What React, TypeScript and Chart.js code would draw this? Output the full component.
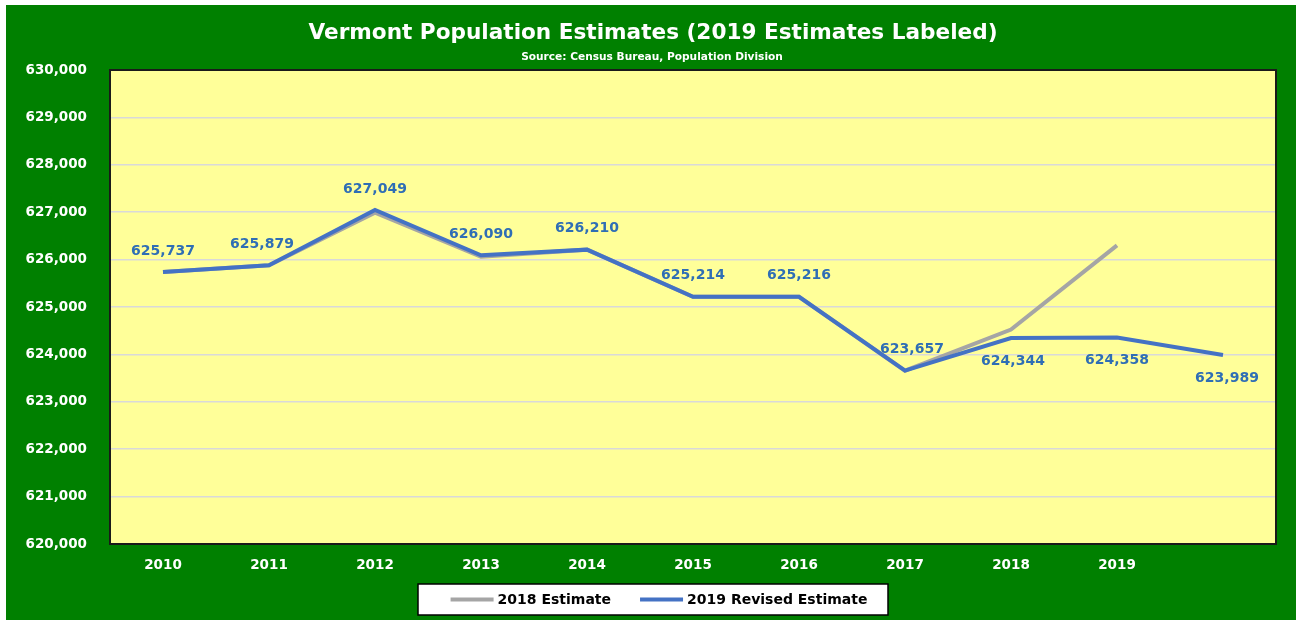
import React, { useEffect, useRef } from "react";
import { Chart, registerables } from "chart.js";

Chart.register(...registerables);

const categories = ["2010", "2011", "2012", "2013", "2014", "2015", "2016", "2017", "2018", "2019", ""];
const estimate2018 = [625737, 625879, 626990, 626060, 626210, 625214, 625216, 623657, 624525, 626299, null];
const revised2019 = [625737, 625879, 627049, 626090, 626210, 625214, 625216, 623657, 624344, 624358, 623989];
const seriesNames = ["2018 Estimate", "2019 Revised Estimate"];
const titleText = "Vermont Population Estimates (2019 Estimates Labeled)";
const subtitleText = "Source: Census Bureau, Population Division";

const GREEN = "#008000";
const YELLOW = "#FFFF99";
const BLUE = "#4472C4";
const GRAY = "#A5A5A5";
const LABEL_BLUE = "#2F6EB5";
const FONT = "'DejaVu Sans', sans-serif";

const fmt = (v: number) => v.toLocaleString("en-US");

const labelPos = ["above", "above", "above", "above", "above", "above", "above", "above", "below", "below", "below"];
const labelDx = [0, -7, 0, 0, 0, 0, 0, 7, 2, 0, 4];

const customPlugin = {
  id: "custom",
  beforeDraw(chart: any) {
    const { ctx, chartArea } = chart;
    ctx.save();
    ctx.fillStyle = YELLOW;
    ctx.fillRect(chartArea.left, chartArea.top, chartArea.right - chartArea.left, chartArea.bottom - chartArea.top);
    ctx.restore();
  },
  afterDraw(chart: any) {
    const { ctx, chartArea } = chart;
    ctx.save();
    // plot border
    ctx.strokeStyle = "#1a1a1a";
    ctx.lineWidth = 2;
    ctx.strokeRect(chartArea.left, chartArea.top, chartArea.right - chartArea.left, chartArea.bottom - chartArea.top);

    // title
    ctx.fillStyle = "#FFFFFF";
    ctx.textAlign = "center";
    ctx.textBaseline = "middle";
    ctx.font = `bold 21.6px ${FONT}`;
    ctx.fillText(titleText, 647, 28);
    ctx.font = `bold 10.6px ${FONT}`;
    ctx.fillText(subtitleText, 646, 52);

    // data labels for the revised series
    const meta = chart.getDatasetMeta(1);
    ctx.font = `bold 14px ${FONT}`;
    ctx.fillStyle = LABEL_BLUE;
    meta.data.forEach((pt: any, i: number) => {
      const v = revised2019[i];
      if (v == null) return;
      const dy = labelPos[i] === "above" ? -21 : 23;
      ctx.fillText(fmt(v), pt.x + labelDx[i], pt.y + dy);
    });

    // legend
    const boxL = 412, boxR = 882, boxT = 579, boxB = 610;
    ctx.fillStyle = "#FFFFFF";
    ctx.fillRect(boxL, boxT, boxR - boxL, boxB - boxT);
    ctx.strokeStyle = "#000000";
    ctx.lineWidth = 1.5;
    ctx.strokeRect(boxL, boxT, boxR - boxL, boxB - boxT);
    ctx.font = `bold 14px ${FONT}`;
    const lineLen = 43, gap = 4, itemGap = 29;
    const colors = [GRAY, BLUE];
    const widths = seriesNames.map((n) => ctx.measureText(n).width);
    const total = widths.reduce((a, b) => a + b, 0) + 2 * (lineLen + gap) + itemGap;
    let x = (boxL + boxR) / 2 - total / 2 + 6;
    const cy = (boxT + boxB) / 2;
    ctx.textAlign = "left";
    seriesNames.forEach((n, i) => {
      ctx.strokeStyle = colors[i];
      ctx.lineWidth = 4;
      ctx.beginPath();
      ctx.moveTo(x, cy);
      ctx.lineTo(x + lineLen, cy);
      ctx.stroke();
      x += lineLen + gap;
      ctx.fillStyle = "#000000";
      ctx.fillText(n, x, cy + 1);
      x += widths[i] + itemGap;
    });
    ctx.restore();
  },
};

export default function App() {
  const ref = useRef<HTMLCanvasElement>(null);
  useEffect(() => {
    if (!ref.current) return;
    const chart = new Chart(ref.current, {
      type: "line",
      data: {
        labels: categories,
        datasets: [
          {
            label: seriesNames[0],
            data: estimate2018,
            borderColor: GRAY,
            backgroundColor: GRAY,
            borderWidth: 4,
            pointRadius: 0,
            tension: 0,
            order: 2,
          },
          {
            label: seriesNames[1],
            data: revised2019,
            borderColor: BLUE,
            backgroundColor: BLUE,
            borderWidth: 4,
            pointRadius: 0,
            tension: 0,
            order: 1,
          },
        ],
      },
      options: {
        animation: false,
        responsive: false,
        layout: { padding: { top: 65, right: 20, bottom: 46, left: 0 } },
        plugins: {
          legend: { display: false },
          title: { display: false },
          tooltip: { enabled: false },
        },
        scales: {
          x: {
            offset: true,
            grid: { display: false, drawTicks: false },
            border: { display: false },
            ticks: {
              color: "#FFFFFF",
              font: { family: FONT, weight: "bold", size: 13.5 },
              padding: 13,
              maxRotation: 0,
              autoSkip: false,
            },
            afterFit(scale: any) {
              scale.height = 30;
            },
          },
          y: {
            min: 620000,
            max: 630000,
            grid: { color: "#D9D9D9", lineWidth: 1.5, drawTicks: false },
            border: { display: false },
            ticks: {
              stepSize: 1000,
              color: "#FFFFFF",
              font: { family: FONT, weight: "bold", size: 13.5 },
              padding: 23,
              callback: (v: any) => fmt(Number(v)),
            },
            afterFit(scale: any) {
              scale.width = 104;
            },
          },
        },
      },
      plugins: [customPlugin],
    });
    return () => chart.destroy();
  }, []);

  return (
    <div
      style={{
        position: "absolute",
        left: 6,
        top: 5,
        width: 1290,
        height: 615,
        background: GREEN,
      }}
    >
      <canvas ref={ref} width={1290} height={615} style={{ display: "block" }} />
    </div>
  );
}
